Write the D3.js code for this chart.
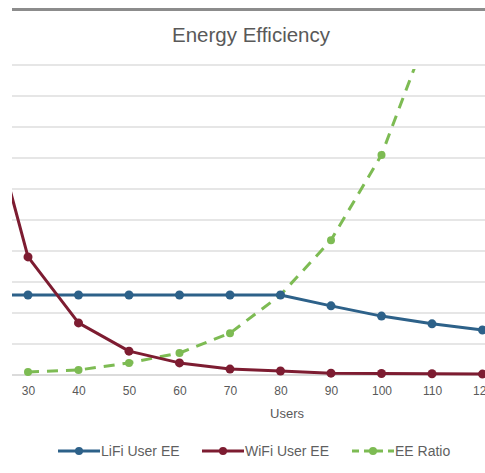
<!DOCTYPE html>
<html><head><meta charset="utf-8">
<script src="https://cdn.jsdelivr.net/npm/d3@7/dist/d3.min.js"></script>
<style>html,body{margin:0;padding:0;background:#fff;}svg{display:block;font-family:"Liberation Sans",Arial,sans-serif;}</style>
</head><body>
<script>
const users = [20, 30, 40, 50, 60, 70, 80, 90, 100, 110, 120];
const tickLabels = [30, 40, 50, 60, 70, 80, 90, 100, 110, 120];
const lifiEE = [2.58, 2.58, 2.58, 2.58, 2.58, 2.58, 2.58, 2.23, 1.90, 1.65, 1.45];
const wifiEE = [9.9, 3.81, 1.68, 0.77, 0.39, 0.19, 0.13, 0.06, 0.05, 0.04, 0.03];
const eeRatio = [null, 0.10, 0.16, 0.39, 0.71, 1.35, 2.58, 4.35, 7.1, 11.4, 17.0];
const seriesNames = ["LiFi User EE", "WiFi User EE", "EE Ratio"];
const gridValues = [0,1,2,3,4,5,6,7,8,9,10];

const W = 485, H = 473;
const svg = d3.select("body").append("svg").attr("width", W).attr("height", H);

const plot = {left: 12, right: 485, top: 65, bottom: 375};
const x = d3.scaleLinear().domain([30, 120]).range([28, 482.5]);
const y = d3.scaleLinear().domain([0, 10]).range([plot.bottom, plot.top]);

// top border line
svg.append("rect").attr("x", 12).attr("y", 8).attr("width", W - 12).attr("height", 3).attr("fill", "#8c8c8c");

// title
svg.append("text").attr("x", 251).attr("y", 42).attr("text-anchor", "middle")
  .attr("font-size", 20.5).attr("fill", "#595959").text("Energy Efficiency");

// gridlines
svg.append("g").selectAll("line").data(gridValues).join("line")
  .attr("x1", plot.left).attr("x2", plot.right)
  .attr("y1", d => y(d)).attr("y2", d => y(d))
  .attr("stroke", d => d === 0 ? "#cfcfcf" : "#dedede").attr("stroke-width", 1.3);

// x axis tick labels
const xAxis = d3.axisBottom(x).tickValues(tickLabels).tickSize(0).tickPadding(11).tickFormat(d3.format("d"));
const gx = svg.append("g").attr("transform", `translate(0,${plot.bottom})`).call(xAxis);
gx.select(".domain").remove();
gx.selectAll("text").attr("font-size", 12).attr("fill", "#595959").attr("font-family", "Liberation Sans, Arial, sans-serif");

svg.append("text").attr("x", 287).attr("y", 418).attr("text-anchor", "middle")
  .attr("font-size", 13).attr("fill", "#595959").text("Users");

// clip
svg.append("defs").append("clipPath").attr("id", "clip").append("rect")
  .attr("x", plot.left).attr("y", plot.top + 4).attr("width", plot.right - plot.left).attr("height", plot.bottom - plot.top + 6);

const g = svg.append("g").attr("clip-path", "url(#clip)");
const colors = ["#2d6189", "#7d1c31", "#7dbb53"];
const data = [lifiEE, wifiEE, eeRatio];
const line = d3.line().defined(d => d[1] != null).x(d => x(d[0])).y(d => y(d[1]));

[2, 0, 1].forEach(i => {
  const pts = users.map((u, k) => [u, data[i][k]]);
  g.append("path").datum(pts).attr("d", line).attr("fill", "none")
    .attr("stroke", colors[i]).attr("stroke-width", 3)
    .attr("stroke-dasharray", i === 2 ? "11,8" : null)
    .attr("stroke-linejoin", "round");
  g.selectAll(null).data(pts.filter(d => d[1] != null)).join("circle")
    .attr("cx", d => x(d[0])).attr("cy", d => y(d[1]))
    .attr("r", i === 2 ? 4 : 4.5).attr("fill", colors[i]);
});

// legend
const legendItems = [
  {x: 58, text: seriesNames[0], c: colors[0], dash: null},
  {x: 202, text: seriesNames[1], c: colors[1], dash: null},
  {x: 352, text: seriesNames[2], c: colors[2], dash: "7,5"}
];
const lg = svg.append("g");
legendItems.forEach(it => {
  lg.append("line").attr("x1", it.x).attr("x2", it.x + 42).attr("y1", 451).attr("y2", 451)
    .attr("stroke", it.c).attr("stroke-width", 3).attr("stroke-dasharray", it.dash);
  lg.append("circle").attr("cx", it.x + 21).attr("cy", 451).attr("r", 4).attr("fill", it.c);
  lg.append("text").attr("x", it.x + 43).attr("y", 456).attr("font-size", 14).attr("fill", "#5f5f5f").text(it.text);
});
</script>
</body></html>
